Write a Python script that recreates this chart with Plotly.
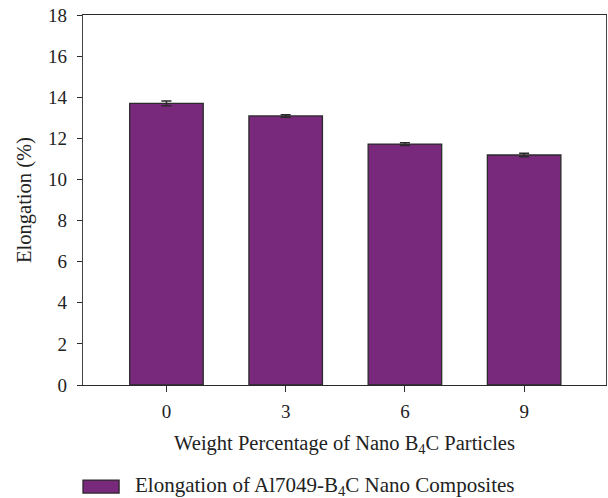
import plotly.graph_objects as go

categories = [0, 3, 6, 9]
tick_labels = ["0", "3", "6", "9"]
elongation = [13.70, 13.09, 11.72, 11.19]
errors = [0.12, 0.06, 0.07, 0.08]
y_ticks = [0, 2, 4, 6, 8, 10, 12, 14, 16, 18]

FONT = "Liberation Serif"
PURPLE = "#79297b"
DARK = "#2b2b2b"

fig = go.Figure()
fig.add_trace(go.Bar(
    x=categories,
    y=elongation,
    width=1.85,
    marker=dict(color=PURPLE, line=dict(color=DARK, width=1.3)),
    error_y=dict(type="data", array=errors, visible=True, color=DARK, thickness=1.5, width=5),
    name="Elongation of Al7049-B<sub>4</sub>C Nano Composites",
    showlegend=False,
))

fig.update_layout(
    width=608, height=498,
    margin=dict(l=83, r=2, t=15, b=113),
    paper_bgcolor="white", plot_bgcolor="white",
    font=dict(family=FONT, size=19, color="#222222"),
    xaxis=dict(
        range=[-2.1, 11.06],
        tickmode="array", tickvals=categories, ticktext=tick_labels,
        ticks="outside", ticklen=6, tickwidth=1.3, tickcolor=DARK,
        showline=True, linecolor=DARK, linewidth=1.3, mirror=True,
        showgrid=False, zeroline=False, automargin=False,
        tickfont=dict(family=FONT, size=19),
        ticklabelstandoff=3,
        title=dict(text="Weight Percentage of Nano B<sub>4</sub>C Particles",
                   font=dict(family=FONT, size=20.5), standoff=14),
    ),
    yaxis=dict(
        range=[0, 18],
        tickmode="array", tickvals=y_ticks,
        ticks="outside", ticklen=5, tickwidth=1.3, tickcolor=DARK,
        showline=True, linecolor="#444444", linewidth=1.3, mirror=True,
        showgrid=False, zeroline=False, automargin=False,
        tickfont=dict(family=FONT, size=19),
        ticklabelstandoff=6,
        ticklabeloverflow="allow",
        title=dict(text="Elongation (%)", font=dict(family=FONT, size=20.5), standoff=10),
    ),
)

# legend (swatch + label)
fig.add_shape(type="rect", xref="paper", yref="paper",
              x0=0.0, x1=0.069, y0=-0.257, y1=-0.292,
              fillcolor=PURPLE, line=dict(color=DARK, width=1.3))
fig.add_annotation(xref="paper", yref="paper", x=0.095, y=-0.272,
                   xanchor="left", yanchor="middle", showarrow=False,
                   text="Elongation of Al7049-B<sub>4</sub>C Nano Composites",
                   font=dict(family=FONT, size=21, color="#222222"))

# remove the default 8px page margin so the figure fills the window
fig.write_html("out.html", config={"displayModeBar": False},
               post_script="document.body.style.margin='0px';")
